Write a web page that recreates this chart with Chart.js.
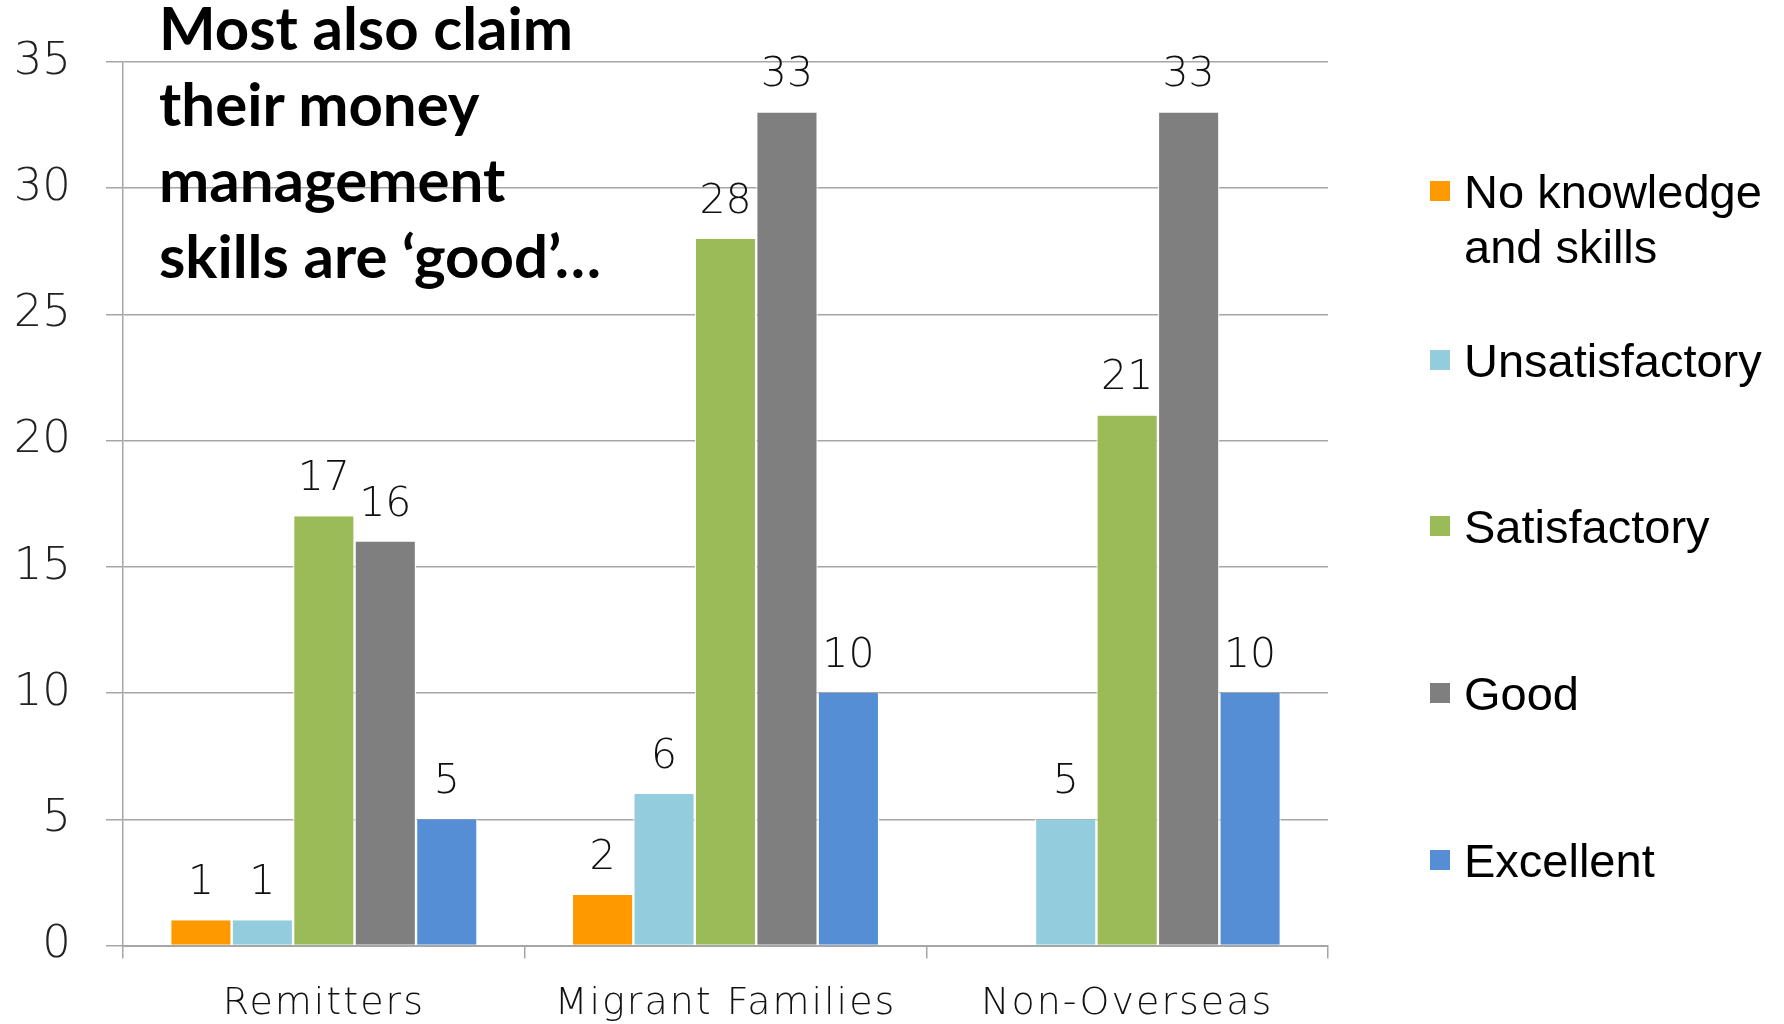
<!DOCTYPE html>
<html><head><meta charset="utf-8">
<script src="https://cdn.jsdelivr.net/npm/chart.js@4.4.0/dist/chart.umd.min.js"></script>
<style>
html,body{margin:0;padding:0;background:#fff;}
#wrap{position:relative;width:1784px;height:1024px;overflow:hidden;background:#fff;}
#c{position:absolute;left:0;top:0;}
#title{position:absolute;left:159px;top:-11px;font-family:Lato,"Open Sans",sans-serif;font-weight:700;font-size:60px;line-height:76px;color:#000;white-space:nowrap;}
.lg{position:absolute;left:1430px;display:flex;align-items:flex-start;font-family:"Liberation Sans",Arial,sans-serif;font-size:47px;line-height:55px;color:#000;white-space:nowrap;}
.lg .sw{width:20px;height:20px;margin-top:17px;margin-right:14px;flex:none;}
</style></head>
<body><div id="wrap"><canvas id="c" width="1784" height="1024"></canvas>
<div id="title">Most also claim<br>their money<br>management<br>skills are ‘good’…</div>
<div id="legend"></div></div>
<script>
const categories = ['Remitters', 'Migrant Families', 'Non-Overseas'];
const seriesNames = ['No knowledge and skills', 'Unsatisfactory', 'Satisfactory', 'Good', 'Excellent'];
const legendLines = [['No knowledge', 'and skills'], ['Unsatisfactory'], ['Satisfactory'], ['Good'], ['Excellent']];
const noKnowledge = [1, 2, 0];
const unsatisfactory = [1, 6, 5];
const satisfactory = [17, 28, 21];
const good = [16, 33, 33];
const excellent = [5, 10, 10];
const yTicks = [0, 5, 10, 15, 20, 25, 30, 35];
const colors = ['#FF9900', '#93CDDD', '#9BBB59', '#7F7F7F', '#558ED5'];

const seriesValues = [noKnowledge, unsatisfactory, satisfactory, good, excellent];
const gridColor = '#A6A6A6';

const valueLabels = {
  id: 'valueLabels',
  beforeDraw(chart) {
    const sx = chart.scales.x;
    if (sx && !sx._spaced) {
      const orig = sx.drawLabels.bind(sx);
      sx.drawLabels = function (area) {
        const c = this.ctx;
        const prev = c.letterSpacing;
        c.letterSpacing = '2px';
        orig(area);
        c.letterSpacing = prev || '0px';
      };
      sx._spaced = true;
    }
  },
  afterDatasetsDraw(chart) {
    const ctx = chart.ctx;
    ctx.save();
    ctx.font = '300 41px "DejaVu Sans"';
    ctx.fillStyle = '#111';
    ctx.textAlign = 'center';
    ctx.textBaseline = 'alphabetic';
    chart.data.datasets.forEach((ds, i) => {
      const meta = chart.getDatasetMeta(i);
      meta.data.forEach((el, j) => {
        const v = ds.data[j];
        if (!v) return;
        ctx.fillText(String(v), el.x, el.y - 26);
      });
    });
    ctx.restore();
  }
};

const chart = new Chart(document.getElementById('c'), {
  type: 'bar',
  data: {
    labels: categories,
    datasets: seriesNames.map((n, i) => ({
      label: n,
      data: seriesValues[i],
      backgroundColor: colors[i],
      borderColor: '#ffffff',
      borderWidth: {left: 1.2, right: 1.2, top: 0, bottom: 0},
      borderSkipped: false,
      categoryPercentage: 0.765,
      barPercentage: 1.0
    }))
  },
  options: {
    responsive: false,
    animation: false,
    layout: {padding: {left: 0, top: 53, right: 456, bottom: 0}},
    plugins: {legend: {display: false}, title: {display: false}, tooltip: {enabled: false}},
    scales: {
      x: {
        afterFit(s) { s.height = 78.5; },
        grid: {display: true, drawOnChartArea: false, drawTicks: true, tickLength: 13, color: gridColor, lineWidth: 1.5, offset: true},
        border: {display: true, color: gridColor, width: 2},
        ticks: {font: {family: 'DejaVu Sans', size: 38, weight: 300}, color: '#111', padding: 23, maxRotation: 0, autoSkip: false}
      },
      y: {
        min: 0, max: 35,
        afterFit(s) { s.width = 123; },
        afterBuildTicks(s) { s.ticks = yTicks.map(v => ({value: v})); },
        grid: {color: gridColor, lineWidth: 1.5, tickLength: 17},
        border: {display: true, color: gridColor, width: 1.5},
        ticks: {font: {family: 'DejaVu Sans', size: 45, weight: 300}, color: '#222', padding: 35}
      }
    }
  },
  plugins: [valueLabels]
});
chart.draw();

const legendCenters = [191, 360, 526, 693, 860];
const lg = document.getElementById('legend');
legendLines.forEach((lines, i) => {
  const d = document.createElement('div');
  d.className = 'lg';
  d.style.top = (legendCenters[i] - 27.5) + 'px';
  const sw = document.createElement('div');
  sw.className = 'sw';
  sw.style.background = colors[i];
  const t = document.createElement('div');
  t.innerHTML = lines.join('<br>');
  d.appendChild(sw); d.appendChild(t);
  lg.appendChild(d);
});
</script></body></html>
